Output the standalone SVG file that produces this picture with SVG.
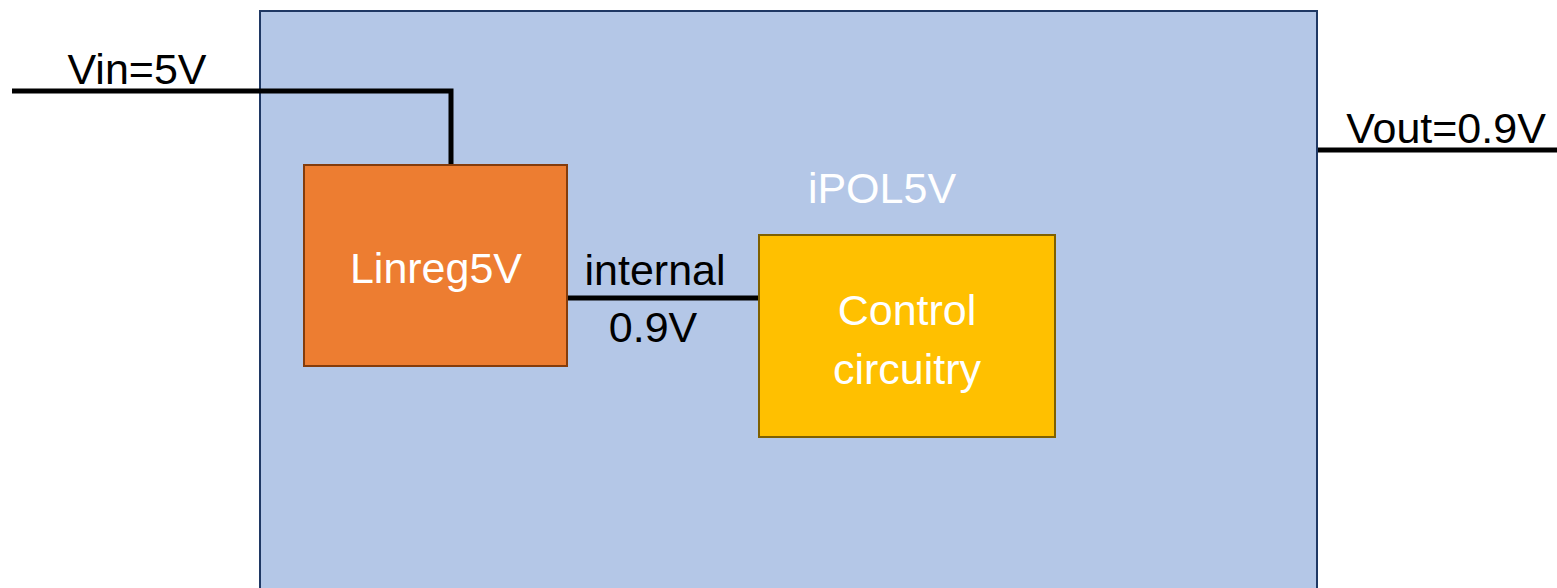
<svg xmlns="http://www.w3.org/2000/svg" width="1557" height="588" viewBox="0 0 1557 588">
<style>
text{font-family:"Liberation Sans",Arial,sans-serif;font-size:43px;text-anchor:middle}
.w{fill:#ffffff}
.k{fill:#000000}
.wire{stroke:#000;stroke-width:5;fill:none}
</style>
<rect width="1557" height="588" fill="#ffffff"/>
<g id="ipol5v">
<rect x="260" y="11" width="1057" height="600" fill="#b4c7e7" stroke="#1f3864" stroke-width="2"/>
<text class="w" x="882" y="203">iPOL5V</text>
</g>
<g id="connectors">
<polyline class="wire" points="12,91 451,91 451,165"/>
<line class="wire" x1="567" y1="298" x2="759" y2="298"/>
<line class="wire" x1="1318" y1="150" x2="1557" y2="150"/>
</g>
<g id="linreg5v">
<rect x="304" y="165" width="263" height="201" fill="#ed7d31" stroke="#843c0c" stroke-width="2"/>
<text class="w" x="436" y="283">Linreg5V</text>
</g>
<g id="control">
<rect x="759" y="235" width="296" height="202" fill="#ffc000" stroke="#7f6000" stroke-width="2"/>
<text class="w" x="907" y="325">Control</text>
<text class="w" x="907" y="384">circuitry</text>
</g>
<g id="labels">
<text class="k" x="137" y="84">Vin=5V</text>
<text class="k" x="1446" y="143">Vout=0.9V</text>
<text class="k" x="655" y="285">internal</text>
<text class="k" x="653" y="342">0.9V</text>
</g>
</svg>
